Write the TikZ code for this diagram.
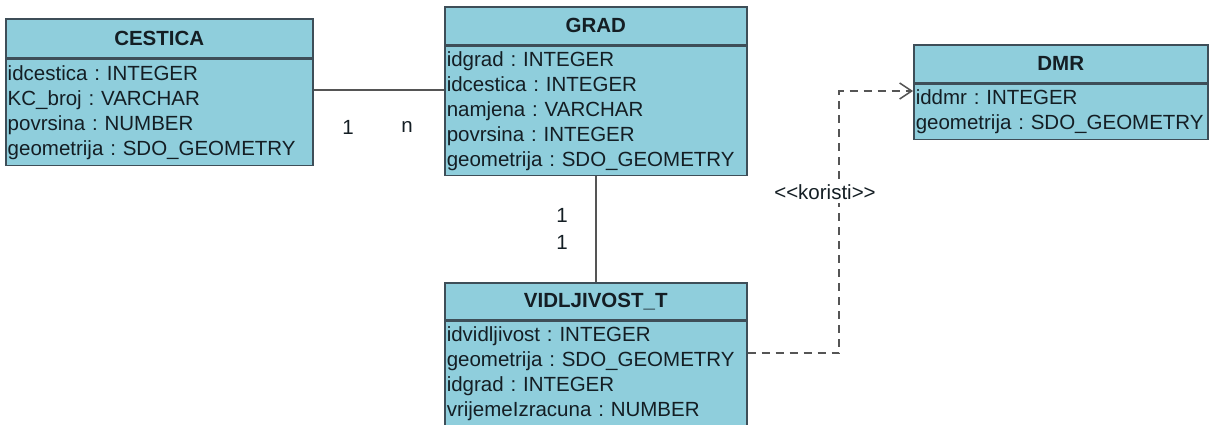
\documentclass[tikz,border=0pt]{standalone}
\usepackage{fontspec}
\setmainfont{Liberation Sans}
\usetikzlibrary{positioning,arrows.meta}
\definecolor{classfill}{RGB}{143,206,220}
\definecolor{classline}{RGB}{62,78,88}
\definecolor{linkgray}{RGB}{85,85,85}
\definecolor{classtext}{RGB}{20,30,36}
\frenchspacing
\tikzset{
  classhead/.style={draw=classline, fill=classfill, line width=1.5pt, text=classtext,
    font=\fontsize{20.5}{25}\selectfont\bfseries, inner sep=0pt, anchor=north west},
  classattr/.style={draw=classline, fill=classfill, line width=1.5pt, text=classtext,
    font=\fontsize{20.5}{25}\selectfont, align=left, inner sep=2pt},
  mult/.style={font=\fontsize{20.5}{25}\selectfont, text=classtext, inner sep=1pt},
  assoc/.style={draw=linkgray, line width=1.5pt},
  uses/.style={assoc, dash pattern=on 8pt off 6pt, -{Straight Barb[length=12pt,width=16pt]}}
}
\begin{document}
\begin{tikzpicture}[x=1pt,y=-1pt]
\useasboundingbox (0,0) rectangle (1214,424);
% classes
\node[classhead, minimum width=307pt, minimum height=39pt] (cestica) at (5,18) {CESTICA};
\node[classattr, below=0pt of cestica, text width=303pt, minimum height=106pt] (cesticaattr)
  {idcestica : INTEGER\\KC\_broj : VARCHAR\\povrsina : NUMBER\\geometrija : SDO\_GEOMETRY};
\node[classhead, minimum width=302pt, minimum height=38pt] (grad) at (444,6) {GRAD};
\node[classattr, below=0pt of grad, text width=298pt, minimum height=129pt] (gradattr)
  {idgrad : INTEGER\\idcestica : INTEGER\\namjena : VARCHAR\\povrsina : INTEGER\\geometrija : SDO\_GEOMETRY};
\node[classhead, minimum width=294pt, minimum height=38pt] (dmr) at (913,44) {DMR};
\node[classattr, below=0pt of dmr, text width=290pt, minimum height=55pt] (dmrattr)
  {iddmr : INTEGER\\geometrija : SDO\_GEOMETRY};
\node[classhead, minimum width=302pt, minimum height=37pt] (vidlj) at (444,282) {VIDLJIVOST\_T};
\node[classattr, below=0pt of vidlj, text width=298pt, minimum height=104pt] (vidljattr)
  {idvidljivost : INTEGER\\geometrija : SDO\_GEOMETRY\\idgrad : INTEGER\\vrijemeIzracuna : NUMBER};
% links
\coordinate (cesticalink) at (0,90);
\draw[assoc] (cesticaattr.east |- cesticalink) -- (gradattr.west |- cesticalink);
\draw[assoc] (gradattr.south) -- (vidlj.north);
\coordinate (usesfrom) at (0,353);
\coordinate (usesto) at (839,91);
\draw[uses] (vidljattr.east |- usesfrom) -| (usesto) -- (dmrattr.west |- usesto);
% multiplicities
\node[mult] (multc) at (348,127) {1};
\node[mult] (multg) at (407,127) {n};
\node[mult] (multgv) at (562,215) {1};
\node[mult] (multvg) at (562,242) {1};
\node[mult, fill=white, inner sep=3pt] (koristi) at (825,192) {<{}<koristi>{}>};
\end{tikzpicture}
\end{document}
